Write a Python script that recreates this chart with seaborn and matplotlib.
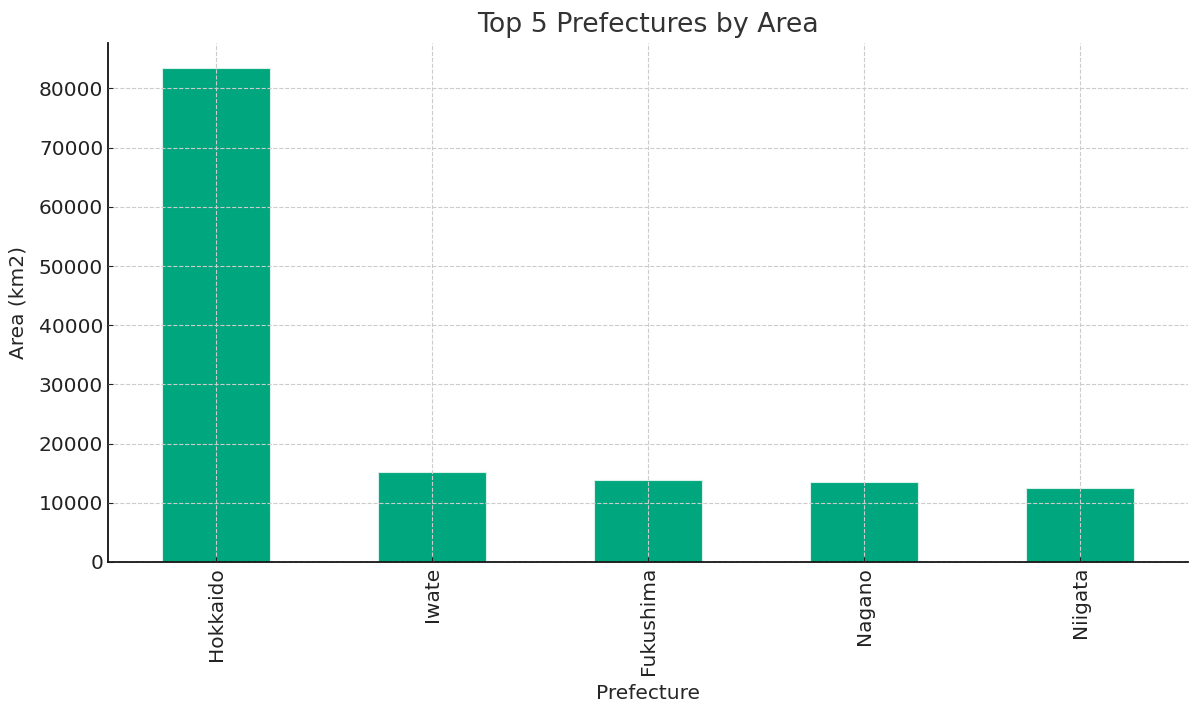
import matplotlib
matplotlib.use("Agg")
import matplotlib.pyplot as plt
import seaborn as sns
import pandas as pd

# data
prefectures = ["Hokkaido", "Iwate", "Fukushima", "Nagano", "Niigata"]
areas = [83424, 15275, 13784, 13562, 12584]

df = pd.DataFrame({"Prefecture": prefectures, "Area": areas})

sns.set_style("ticks")
plt.rcParams['font.family'] = ['DejaVu Sans']
plt.rcParams['text.color'] = '#333333'

fig, ax = plt.subplots(figsize=(12, 7.15), dpi=100)
sns.barplot(data=df, x="Prefecture", y="Area", color="#00a67d", saturation=1,
            width=0.5, edgecolor="#d8f2ea", linewidth=0.8, ax=ax)

ax.set_axisbelow(False)
ax.grid(True, linestyle="--", color="#cccccc", linewidth=0.8)
ax.tick_params(direction="in", labelsize=14.5, colors="#222222", labelcolor="#222222")
ax.tick_params(axis="x", rotation=90)
ax.set_title("Top 5 Prefectures by Area", fontsize=19.3, pad=8)
ax.set_xlabel("Prefecture", fontsize=14.5, labelpad=6)
ax.set_ylabel("Area (km2)", fontsize=14.5, labelpad=8)
ax.set_xlim(-0.5, 4.5)
ax.set_ylim(0, 87700)
sns.despine(ax=ax)
for side in ["left", "bottom"]:
    ax.spines[side].set_color("#111111")
    ax.spines[side].set_linewidth(1.3)

fig.subplots_adjust(left=0.09, right=0.99, top=0.94, bottom=0.214)
fig.savefig("out.png")
